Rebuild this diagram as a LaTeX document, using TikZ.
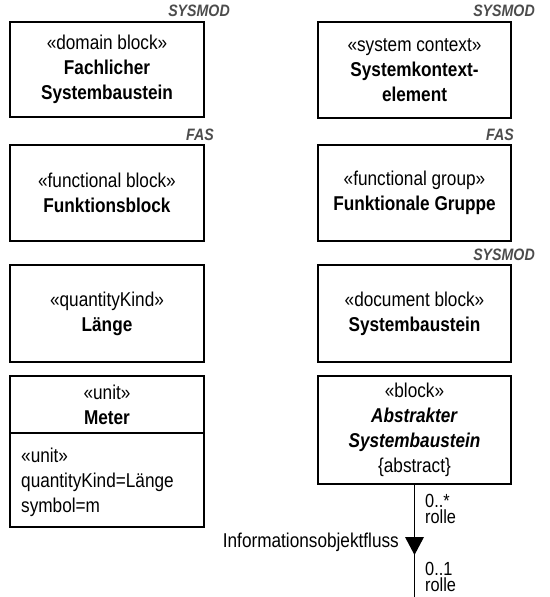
\documentclass[tikz,border=0pt]{standalone}
\usepackage{fontspec}
\setmainfont{Liberation Sans}[FakeStretch=0.86]
\begin{document}
\begin{tikzpicture}[x=1pt,y=-1pt,
  font=\fontsize{20}{25}\selectfont,
  blk/.style={draw, line width=2pt, minimum width=194pt, align=center, inner sep=0pt},
  rblk/.style={blk, minimum width=193pt},
  tag/.style={font=\fontsize{16.5}{16.5}\selectfont\bfseries\itshape, text=black!70, inner sep=0pt},
  lbl/.style={inner sep=0pt, align=left},
  mult/.style={lbl, anchor=west, font=\fontsize{19}{16.5}\selectfont}]
\useasboundingbox (0,0) rectangle (549,597);
% left column
\node[blk, minimum height=95pt] (dom) at (107,69.5) {«domain block»\\\textbf{Fachlicher}\\\textbf{Systembaustein}};
\node[blk, minimum height=96pt] (fun) at (107,193) {«functional block»\\\textbf{Funktionsblock}};
\node[blk, minimum height=97pt] (qk) at (107,313.5) {«quantityKind»\\\textbf{Länge}};
\node[blk, minimum height=57pt] (meterh) at (107,404.5) {«unit»\\\textbf{Meter}};
\node[blk, minimum height=94pt] (meterb) at (107,480) {};
\node[lbl, anchor=west] (meterv) at (21,482) {«unit»\\quantityKind=Länge\\symbol=m};
% right column
\node[rblk, minimum height=96pt] (ctx) at (414.5,70) {«system context»\\\textbf{Systemkontext-}\\\textbf{element}};
\node[rblk, minimum height=96pt] (grp) at (414.5,193) {«functional group»\\\textbf{Funktionale Gruppe}};
\node[rblk, minimum height=97pt] (doc) at (414.5,313.5) {«document block»\\\textbf{Systembaustein}};
\node[rblk, minimum height=108pt] (blk) at (414.5,430) {«block»\\\textbf{\itshape Abstrakter}\\\textbf{\itshape Systembaustein}\\\{abstract\}};
% tags
\node[tag] (t1) at (199,11) {SYSMOD};
\node[tag] (t2) at (504,11) {SYSMOD};
\node[tag] (t3) at (200,135) {FAS};
\node[tag] (t4) at (500,135) {FAS};
\node[tag] (t5) at (504,255) {SYSMOD};
% connector
\coordinate (endc) at (414.5,597);
\draw[line width=1.6pt] (blk.south) -- (endc);
\fill (405,537) -- (424,537) -- (414.5,555) -- cycle;
\node[inner sep=0pt, anchor=east] (flow) at (399,542) {Informationsobjektfluss};
\node[mult] (m1) at (425,509) {0..*\\rolle};
\node[mult] (m2) at (425,577) {0..1\\rolle};
\end{tikzpicture}
\end{document}
